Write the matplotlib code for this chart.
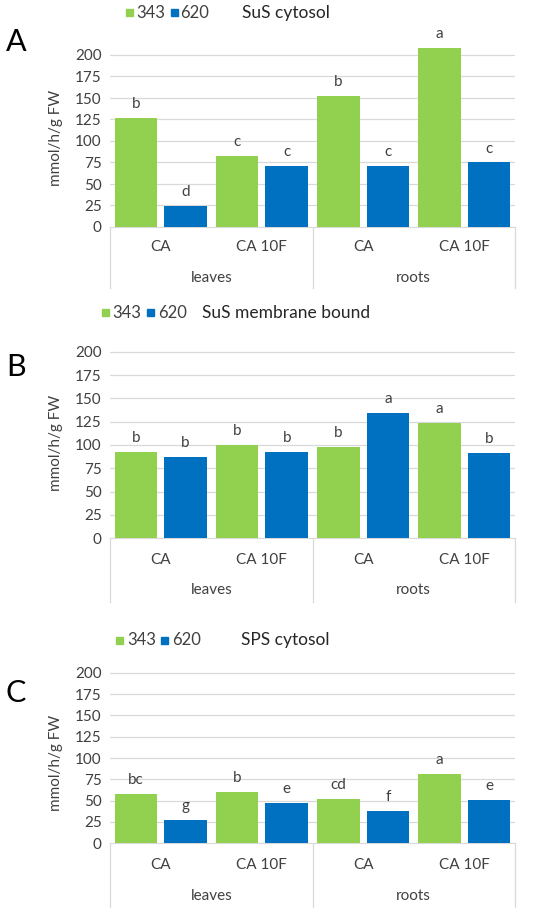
import numpy as np
import matplotlib
matplotlib.use('Agg')
import matplotlib.pyplot as plt
from matplotlib.patches import Rectangle
from matplotlib.transforms import blended_transform_factory

plt.rcParams['font.family'] = ['Lato', 'DejaVu Sans']

treatments = ['CA', 'CA 10F', 'CA', 'CA 10F']
organs = ['leaves', 'roots']
series = ['343', '620']

sus_cyt_343 = [127, 83, 152, 208]
sus_cyt_620 = [24, 71, 71, 75]
sus_cyt_let_343 = ['b', 'c', 'b', 'a']
sus_cyt_let_620 = ['d', 'c', 'c', 'c']

sus_mem_343 = [92.5, 99.6, 97.9, 124]
sus_mem_620 = [86.8, 92.9, 134, 91.8]
sus_mem_let_343 = ['b', 'b', 'b', 'a']
sus_mem_let_620 = ['b', 'b', 'a', 'b']

sps_cyt_343 = [57.4, 60.5, 52.3, 81.3]
sps_cyt_620 = [27.7, 47.3, 37.9, 50.4]
sps_cyt_let_343 = ['bc', 'b', 'cd', 'a']
sps_cyt_let_620 = ['g', 'e', 'f', 'e']

green = '#92D050'
blue = '#0070C0'
grid_c = '#D9D9D9'
txt_c = '#404040'

W, H = 550, 913
fig = plt.figure(figsize=(W / 100, H / 100), dpi=100)

def px(x, y):
    return x / W, 1 - y / H

def panel(letter, title, v1, v2, l1, l2, y0, scale, leg, y_lab, y_cat, y_org, y_bot, y_letter):
    x0, x1 = 110, 515
    ymax = 215
    h = ymax * scale
    ax = fig.add_axes([x0 / W, (H - y0) / H, (x1 - x0) / W, h / H])
    x = np.arange(len(treatments))
    bw = 0.42
    b1 = ax.bar(x - 0.245, v1, bw, color=green, zorder=3)
    b2 = ax.bar(x + 0.245, v2, bw, color=blue, zorder=3)
    for bars, labs in ((b1, l1), (b2, l2)):
        for b, t in zip(bars, labs):
            ax.annotate(t, (b.get_x() + b.get_width() / 2, b.get_height()),
                        xytext=(0, 5), textcoords='offset points',
                        ha='center', va='bottom', fontsize=11, color=txt_c)
    ax.set_xlim(-0.5, 3.5)
    ax.set_ylim(0, ymax)
    ax.set_yticks(np.arange(0, 201, 25))
    ax.tick_params(axis='y', length=0, labelsize=11, labelcolor=txt_c, pad=6)
    ax.set_xticks([])
    for s in ['top', 'right', 'left']:
        ax.spines[s].set_visible(False)
    ax.spines['bottom'].set_color(grid_c)
    for yv in np.arange(25, 201, 25):
        ax.axhline(yv, color=grid_c, lw=0.9, zorder=1)

    tr = blended_transform_factory(ax.transData, ax.transAxes)
    for xv in [-0.5, 1.5, 3.5]:
        ax.plot([xv, xv], [0, -(y_bot - y0) / h], transform=tr, color=grid_c,
                lw=0.9, clip_on=False)
    for i, t in enumerate(treatments):
        ax.text(i, -(y_cat - y0) / h, t, transform=tr, ha='center', va='center',
                fontsize=11, color=txt_c)
    for i, o in enumerate(organs):
        ax.text(0.5 + 2 * i, -(y_org - y0) / h, o, transform=tr, ha='center',
                va='center', fontsize=11, color=txt_c)

    # legend + title line
    ly, gx, t1x, bx, t2x, ttx = leg
    sq = 7
    for cx, c in ((gx, green), (bx, blue)):
        fig.add_artist(Rectangle(px(cx, ly + sq / 2), sq / W, sq / H,
                                 transform=fig.transFigure, color=c))
    fig.text(*px(t1x, ly), series[0], ha='left', va='center', fontsize=12, color=txt_c)
    fig.text(*px(t2x, ly), series[1], ha='left', va='center', fontsize=12, color=txt_c)
    fig.text(*px(ttx, ly), title, ha='left', va='center', fontsize=12.5, color='#262626')

    fig.text(*px(56, y_lab), 'mmol/h/g FW', rotation=90, ha='center', va='center',
             fontsize=11, color=txt_c)
    fig.text(*px(16, y_letter), letter, ha='center', va='center', fontsize=22, color='black')
    return ax

panel('A', 'SuS cytosol', sus_cyt_343, sus_cyt_620, sus_cyt_let_343, sus_cyt_let_620,
      227, 0.86, (13, 126, 136, 171, 180, 242), 138, 247, 278, 288, 42)
panel('B', 'SuS membrane bound', sus_mem_343, sus_mem_620, sus_mem_let_343, sus_mem_let_620,
      538.3, 0.933, (313, 102, 112, 147, 158, 202), 443, 560, 590, 602, 367)
panel('C', 'SPS cytosol', sps_cyt_343, sps_cyt_620, sps_cyt_let_343, sps_cyt_let_620,
      843.3, 0.853, (640, 116, 127, 161, 172, 241), 763, 865, 896, 907, 693)

fig.savefig('out.png', dpi=100, facecolor='white')
